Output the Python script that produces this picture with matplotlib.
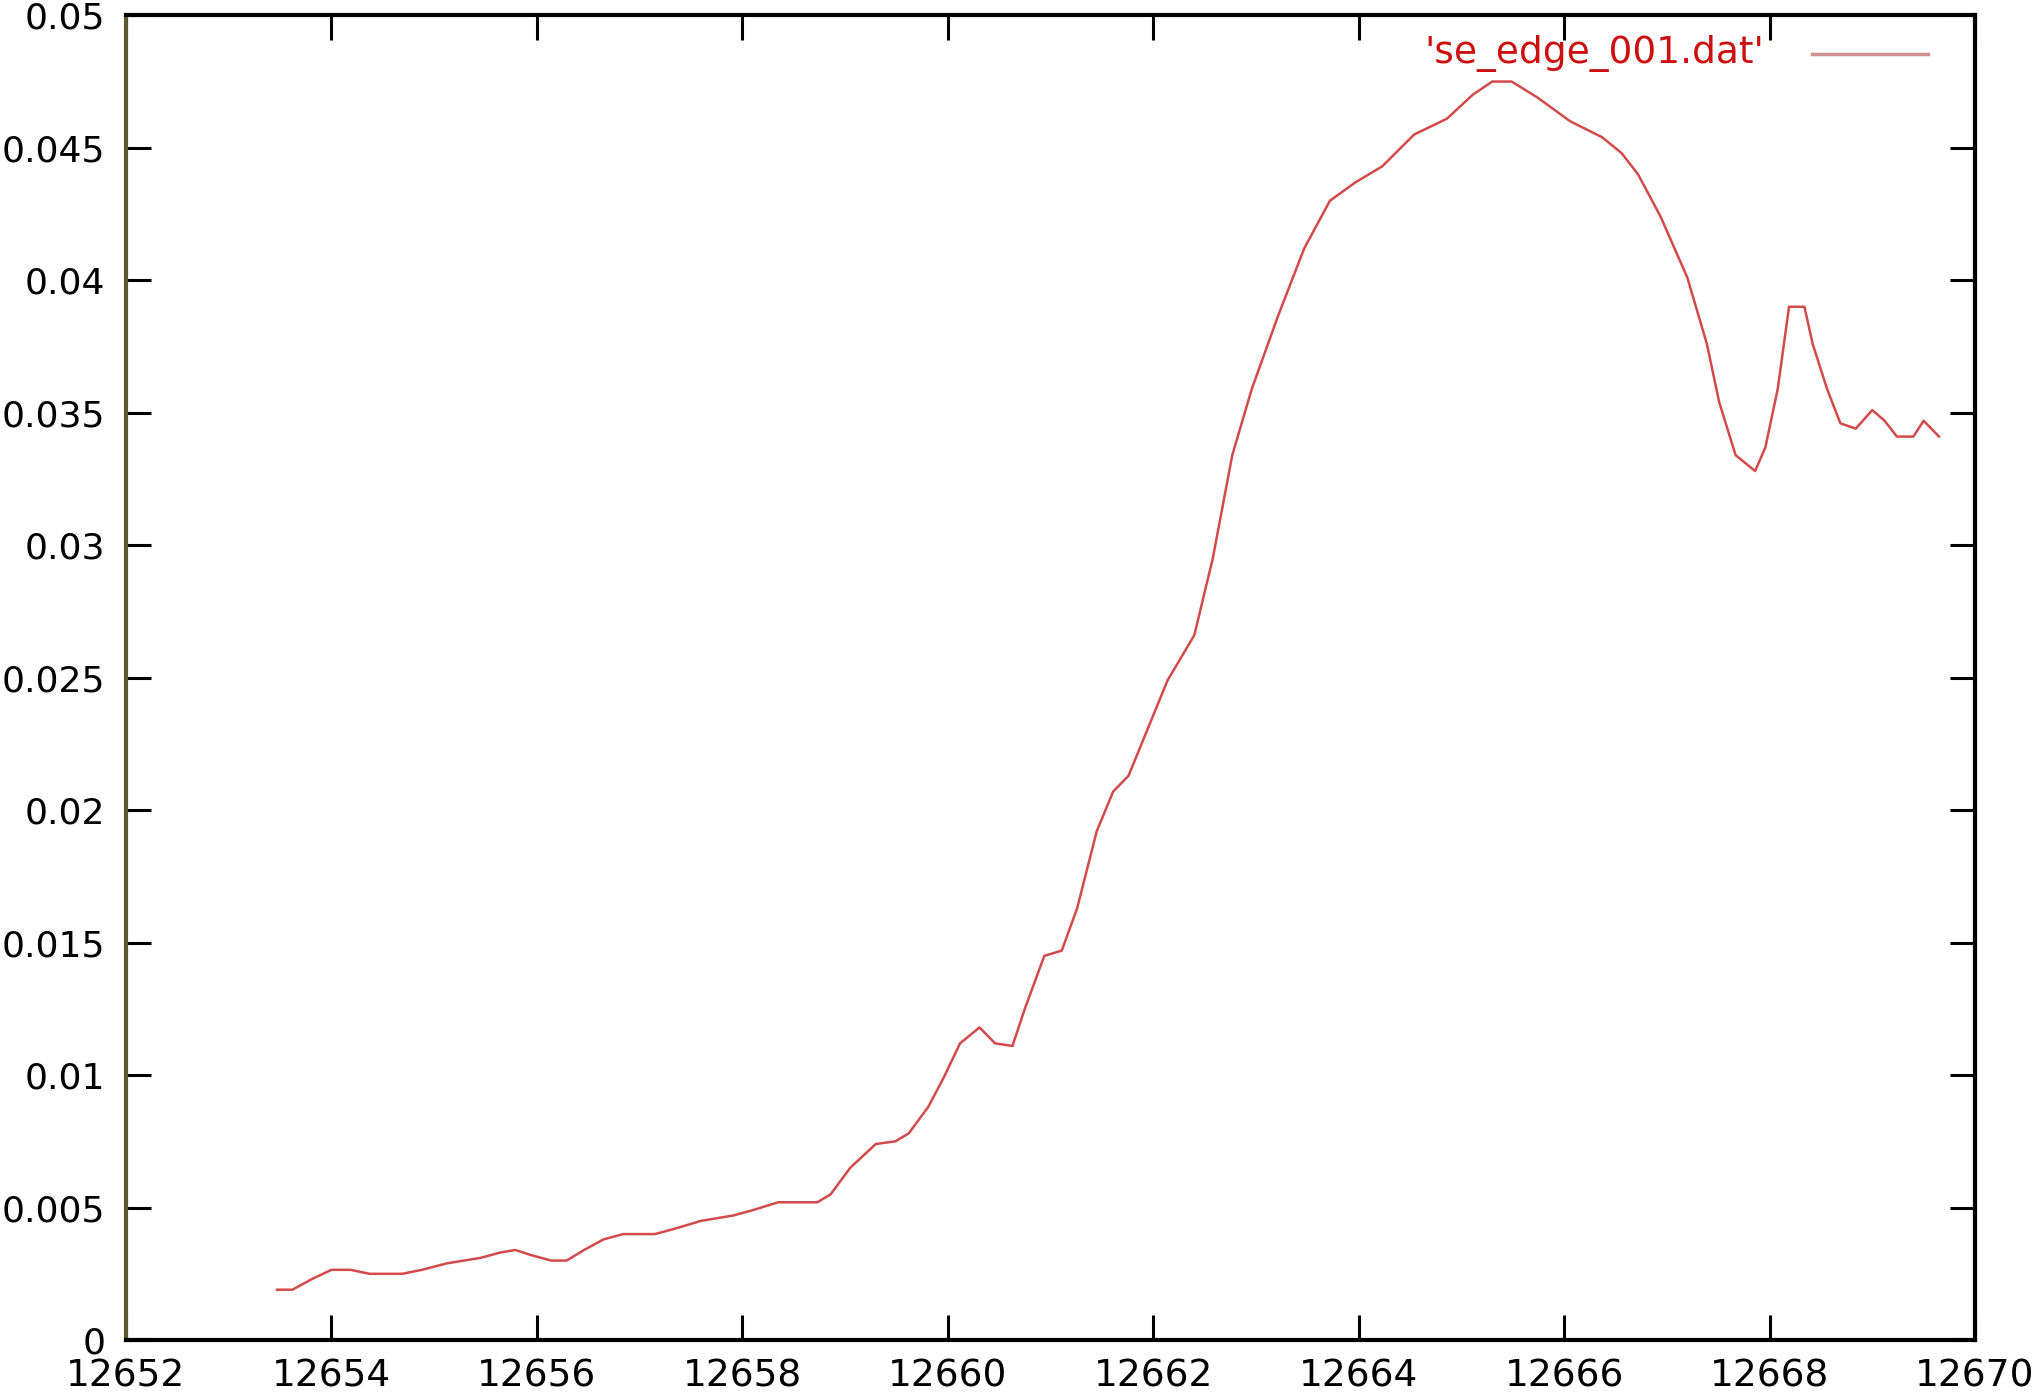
import matplotlib
matplotlib.use("Agg")
import matplotlib.pyplot as plt
from matplotlib.ticker import FuncFormatter, MultipleLocator

# energy (eV) and absorption
energy = [12653.47, 12653.62, 12653.81, 12654.00, 12654.19, 12654.37, 12654.69,
          12654.88, 12655.13, 12655.45, 12655.64, 12655.79, 12655.95, 12656.14,
          12656.29, 12656.46, 12656.65, 12656.84, 12657.15, 12657.34, 12657.60,
          12657.91, 12658.10, 12658.35, 12658.73, 12658.86, 12659.05, 12659.30,
          12659.49, 12659.62, 12659.81, 12659.96, 12660.12, 12660.31, 12660.46,
          12660.63, 12660.75, 12660.94, 12661.11, 12661.26, 12661.45, 12661.61,
          12661.76, 12661.95, 12662.14, 12662.40, 12662.58, 12662.77, 12662.96,
          12663.22, 12663.47, 12663.72, 12663.97, 12664.23, 12664.54, 12664.86,
          12665.11, 12665.30, 12665.49, 12665.74, 12666.06, 12666.37, 12666.56,
          12666.72, 12666.94, 12667.20, 12667.39, 12667.51, 12667.67, 12667.86,
          12667.96, 12668.08, 12668.19, 12668.34, 12668.42, 12668.56, 12668.69,
          12668.84, 12669.00, 12669.12, 12669.24, 12669.40, 12669.50, 12669.65]
signal = [0.0019, 0.0019, 0.0023, 0.00265, 0.00265, 0.0025, 0.0025,
          0.00265, 0.0029, 0.0031, 0.0033, 0.0034, 0.0032, 0.0030,
          0.0030, 0.0034, 0.0038, 0.0040, 0.0040, 0.0042, 0.0045,
          0.0047, 0.0049, 0.0052, 0.0052, 0.0055, 0.0065, 0.0074,
          0.0075, 0.0078, 0.0088, 0.0099, 0.0112, 0.0118, 0.0112,
          0.0111, 0.0125, 0.0145, 0.0147, 0.0163, 0.0192, 0.0207,
          0.0213, 0.0231, 0.0249, 0.0266, 0.0295, 0.0334, 0.0359,
          0.0387, 0.0412, 0.0430, 0.0437, 0.0443, 0.0455, 0.0461,
          0.0470, 0.0475, 0.0475, 0.0469, 0.0460, 0.0454, 0.0448,
          0.0440, 0.0424, 0.0401, 0.0376, 0.0354, 0.0334, 0.0328,
          0.0337, 0.0359, 0.0390, 0.0390, 0.0376, 0.0359, 0.0346,
          0.0344, 0.0351, 0.0347, 0.0341, 0.0341, 0.0347, 0.0341]
label = "'se_edge_001.dat'"

fig = plt.figure(figsize=(20.35, 13.94), dpi=100)
ax = fig.add_axes([0.0619, 0.0387, 0.9086, 0.9503])

ax.plot(energy, signal, color="#d24a4a", lw=1.8)

ax.set_xlim(12652, 12670)
ax.set_ylim(0, 0.05)
ax.xaxis.set_major_locator(MultipleLocator(2))
ax.yaxis.set_major_locator(MultipleLocator(0.005))
ax.xaxis.set_major_formatter(FuncFormatter(lambda v, p: "%d" % round(v)))
ax.yaxis.set_major_formatter(FuncFormatter(lambda v, p: "%g" % round(v, 4)))

ax.tick_params(direction="in", length=18, width=2.2, top=True, right=True,
               colors="black")
ax.tick_params(axis="x", pad=13, labelsize=27)
ax.tick_params(axis="y", pad=15, labelsize=26)
for s in ax.spines.values():
    s.set_linewidth(3)
ax.spines["left"].set_color("#5c5830")

# legend drawn gnuplot style
ax.text(0.886, 0.971, label, transform=ax.transAxes, ha="right", va="center",
        fontsize=27, color="#cc1010")
ax.plot([0.912, 0.9746], [0.971, 0.971], transform=ax.transAxes,
        color="#d09090", lw=2.5)

fig.savefig("out.png", dpi=100)
